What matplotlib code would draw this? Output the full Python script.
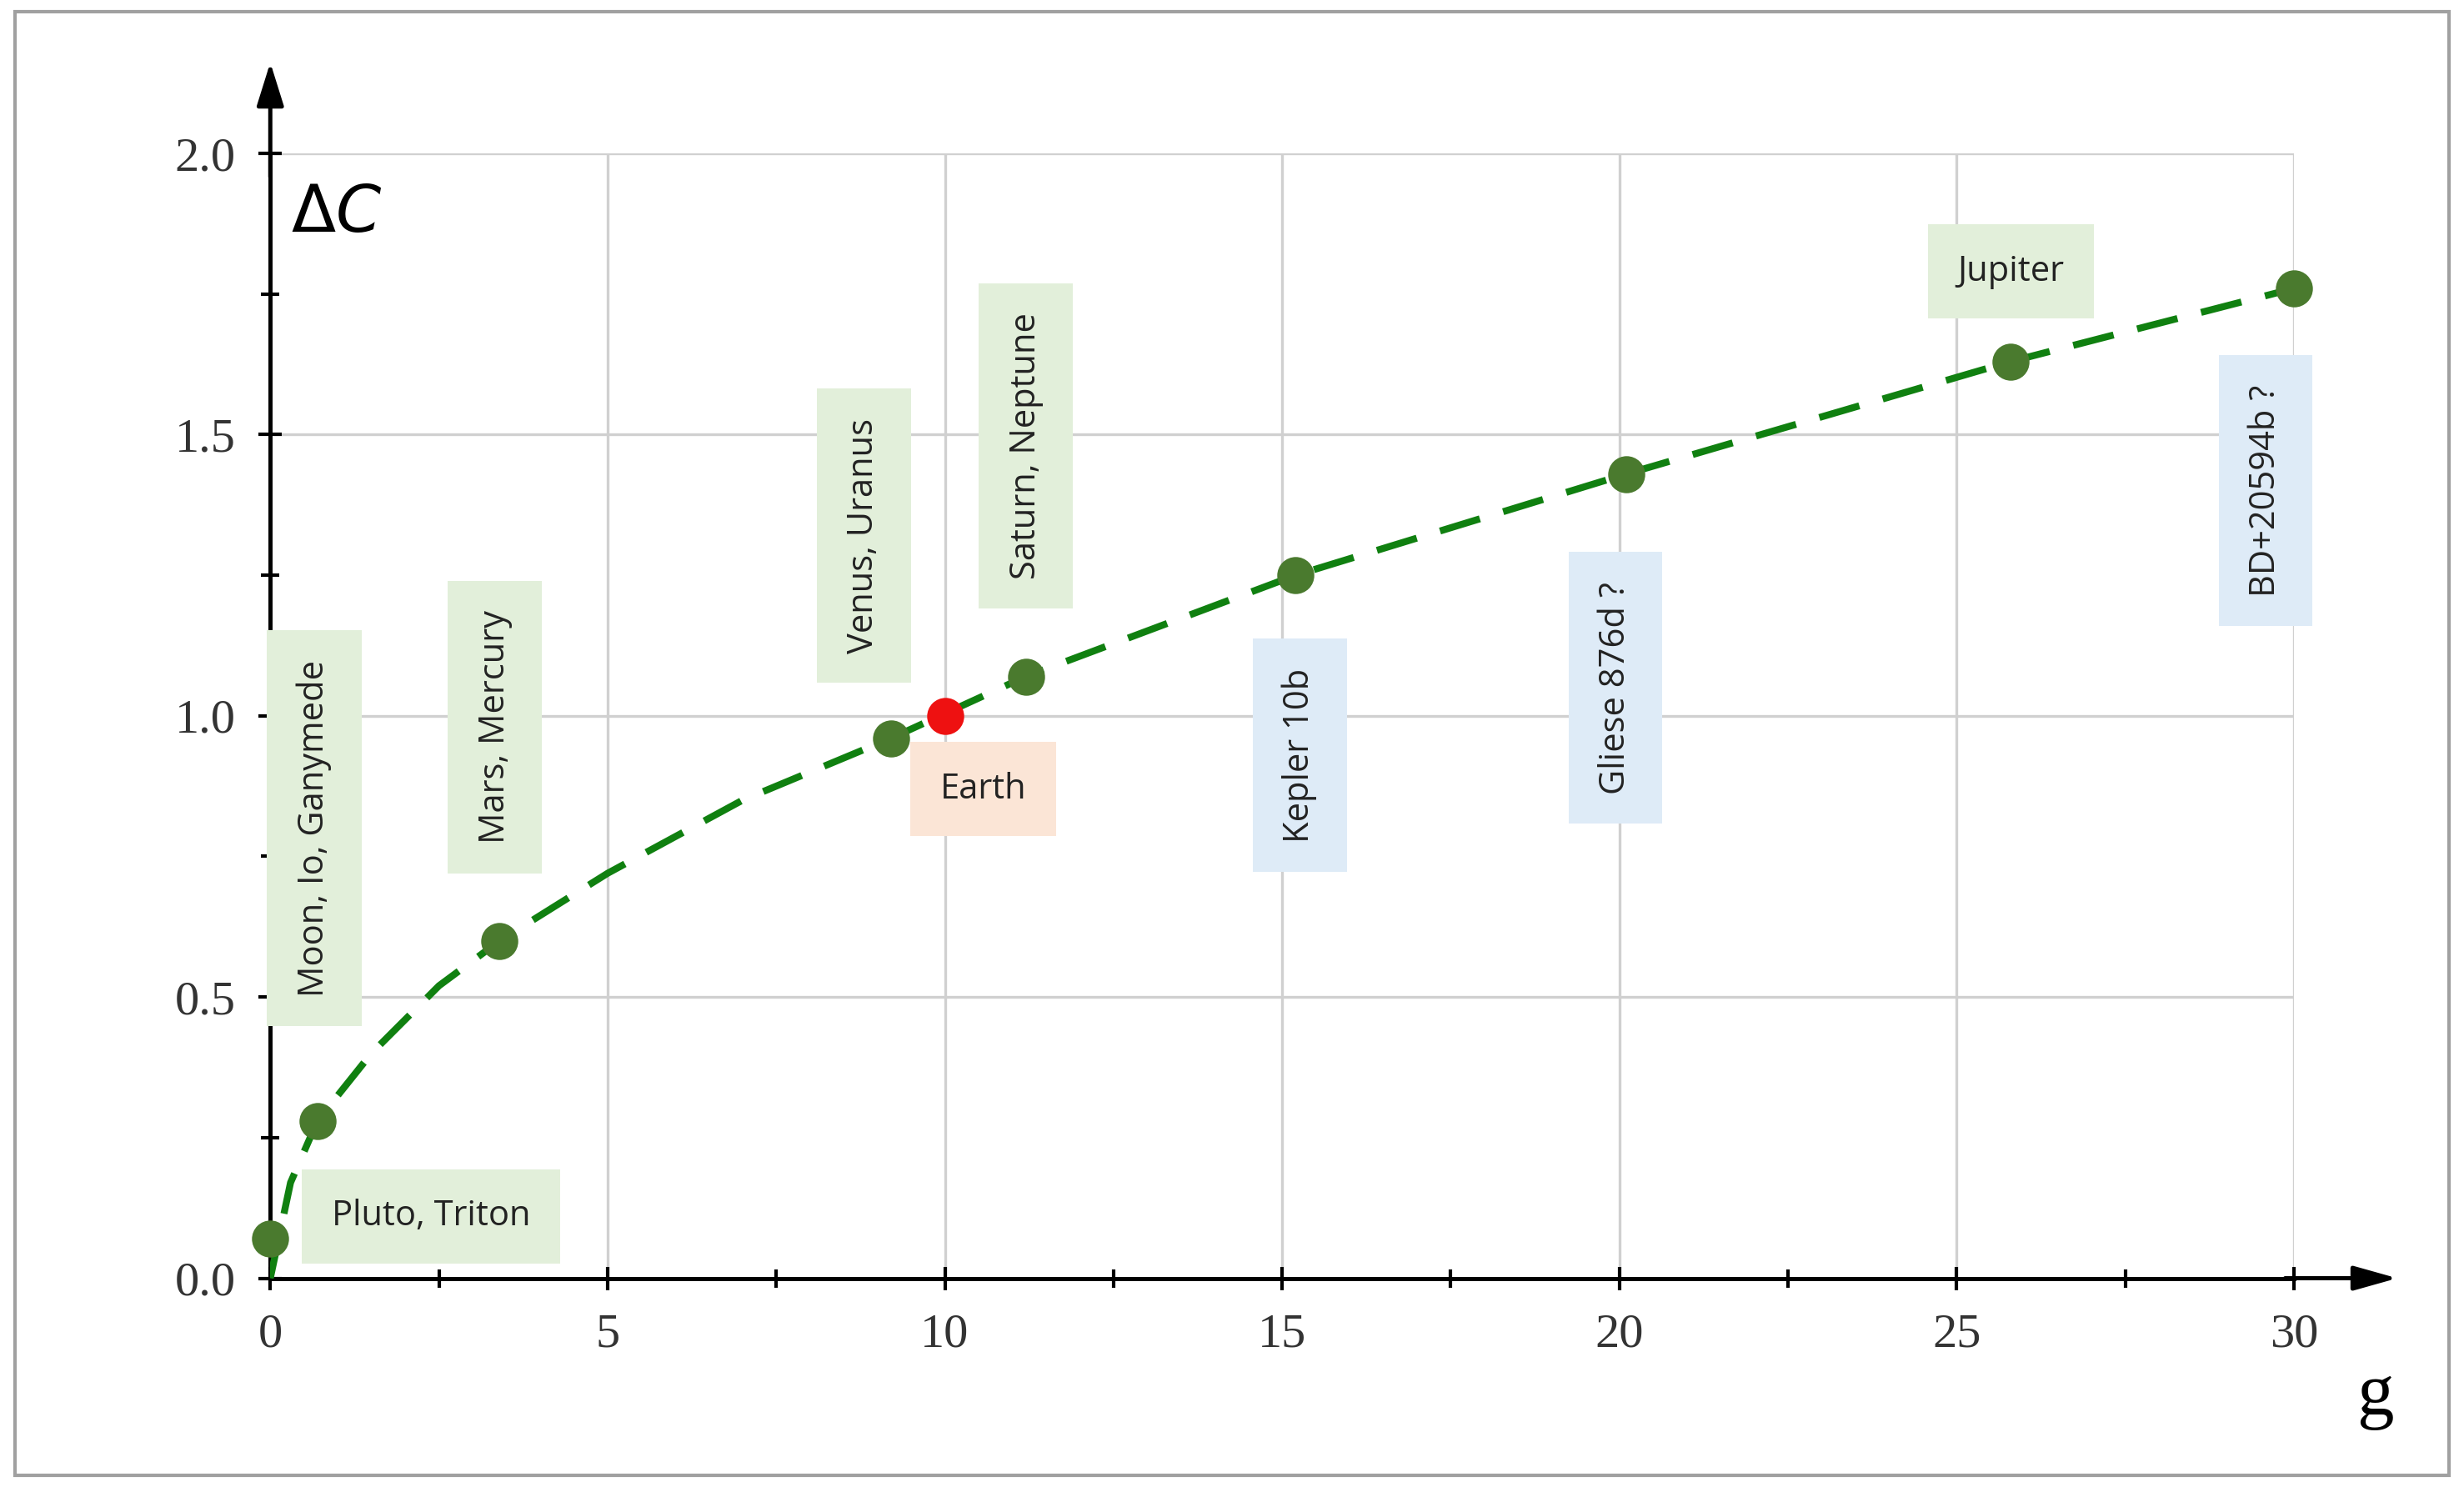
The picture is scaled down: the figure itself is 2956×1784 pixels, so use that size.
import matplotlib.pyplot as plt
from matplotlib.patches import Rectangle

# data
g_pts = [0.0, 0.7, 3.4, 9.2, 11.2, 15.2, 20.1, 25.8, 30.0]
c_pts = [0.07, 0.28, 0.60, 0.96, 1.07, 1.25, 1.43, 1.63, 1.76]
earth_g = [10.0]
earth_c = [1.0]

curve_g = [0.0, 0.3, 0.7, 1.5, 2.5, 3.4, 5.0, 7.0, 9.2, 11.2, 15.2, 20.1, 25.8, 30.0]
curve_c = [0.0, 0.17, 0.28, 0.40, 0.52, 0.60, 0.72, 0.85, 0.96, 1.07, 1.25, 1.43, 1.63, 1.76]

GREEN_BOX = "#e2efda"
BLUE_BOX = "#deebf7"
PINK_BOX = "#fbe5d6"

# (text, g, C, rotation, box colour)
labels = [
    ("Pluto, Triton", 2.38, 0.11, 0, GREEN_BOX),
    ("Moon, Io, Ganymede", 0.65, 0.80, 90, GREEN_BOX),
    ("Mars, Mercury", 3.33, 0.98, 90, GREEN_BOX),
    ("Venus, Uranus", 8.8, 1.32, 90, GREEN_BOX),
    ("Saturn, Neptune", 11.2, 1.48, 90, GREEN_BOX),
    ("Earth", 10.57, 0.87, 0, PINK_BOX),
    ("Kepler 10b", 15.26, 0.93, 90, BLUE_BOX),
    ("Gliese 876d ?", 19.94, 1.05, 90, BLUE_BOX),
    ("BD+20594b ?", 29.58, 1.40, 90, BLUE_BOX),
    ("Jupiter", 25.8, 1.79, 0, GREEN_BOX),
]

fig = plt.figure(figsize=(14.78, 8.92), dpi=200)
ax = fig.add_axes([0.1097, 0.1404, 0.8213, 0.7564])
fig.patches.append(Rectangle((0.006, 0.008), 0.988, 0.984, transform=fig.transFigure,
                             fill=False, edgecolor="#a0a0a0", lw=1.5))

ax.set_xlim(0, 30)
ax.set_ylim(0, 2.0)
ax.set_xticks([0, 5, 10, 15, 20, 25, 30])
ax.set_yticks([0.0, 0.5, 1.0, 1.5, 2.0])
ax.set_yticklabels(["0.0", "0.5", "1.0", "1.5", "2.0"])
ax.set_xticks([2.5, 7.5, 12.5, 17.5, 22.5, 27.5], minor=True)
ax.set_yticks([0.25, 0.75, 1.25, 1.75], minor=True)
ax.grid(True, which="major", color="#d0d0d0", lw=1.2)
for s in ["top", "right"]:
    ax.spines[s].set_visible(False)
ax.spines["left"].set_linewidth(1.8)
ax.spines["bottom"].set_linewidth(1.8)
ax.tick_params(which="both", direction="inout", length=10, width=1.5,
               labelsize=21, pad=10)
ax.tick_params(which="minor", length=8)
for t in ax.get_xticklabels() + ax.get_yticklabels():
    t.set_fontfamily("Liberation Serif")
    t.set_color("#333333")

# axis arrows
ax.annotate("", xy=(0, 2.17), xytext=(0, 1.95), xycoords="data", annotation_clip=False,
            arrowprops=dict(arrowstyle="-|>,head_length=1.6,head_width=0.5", color="black", lw=1.8))
ax.annotate("", xy=(31.6, 0), xytext=(29.8, 0), xycoords="data", annotation_clip=False,
            arrowprops=dict(arrowstyle="-|>,head_length=1.6,head_width=0.45", color="black", lw=1.8))

ax.text(0.3, 1.95, r"$\Delta C$", fontsize=28, va="top", ha="left")
ax.text(31.2, -0.21, "g", fontsize=32, family="Liberation Serif", ha="center", va="center",
        clip_on=False)

ax.plot(curve_g, curve_c, color="#108010", lw=3, dashes=(6, 3.5), zorder=3)
ax.plot(g_pts, c_pts, "o", color="#4a7a2e", ms=15, zorder=4, clip_on=False)
ax.plot(earth_g, earth_c, "o", color="#ee1111", ms=15, zorder=4)

for text, x, y, rot, col in labels:
    ax.text(x, y, text, rotation=rot, ha="center", va="center",
            fontsize=15, family="Open Sans", color="#222222", zorder=5,
            bbox=dict(boxstyle="square,pad=0.85", fc=col, ec="none"))

fig.savefig("out.png", dpi=200)
